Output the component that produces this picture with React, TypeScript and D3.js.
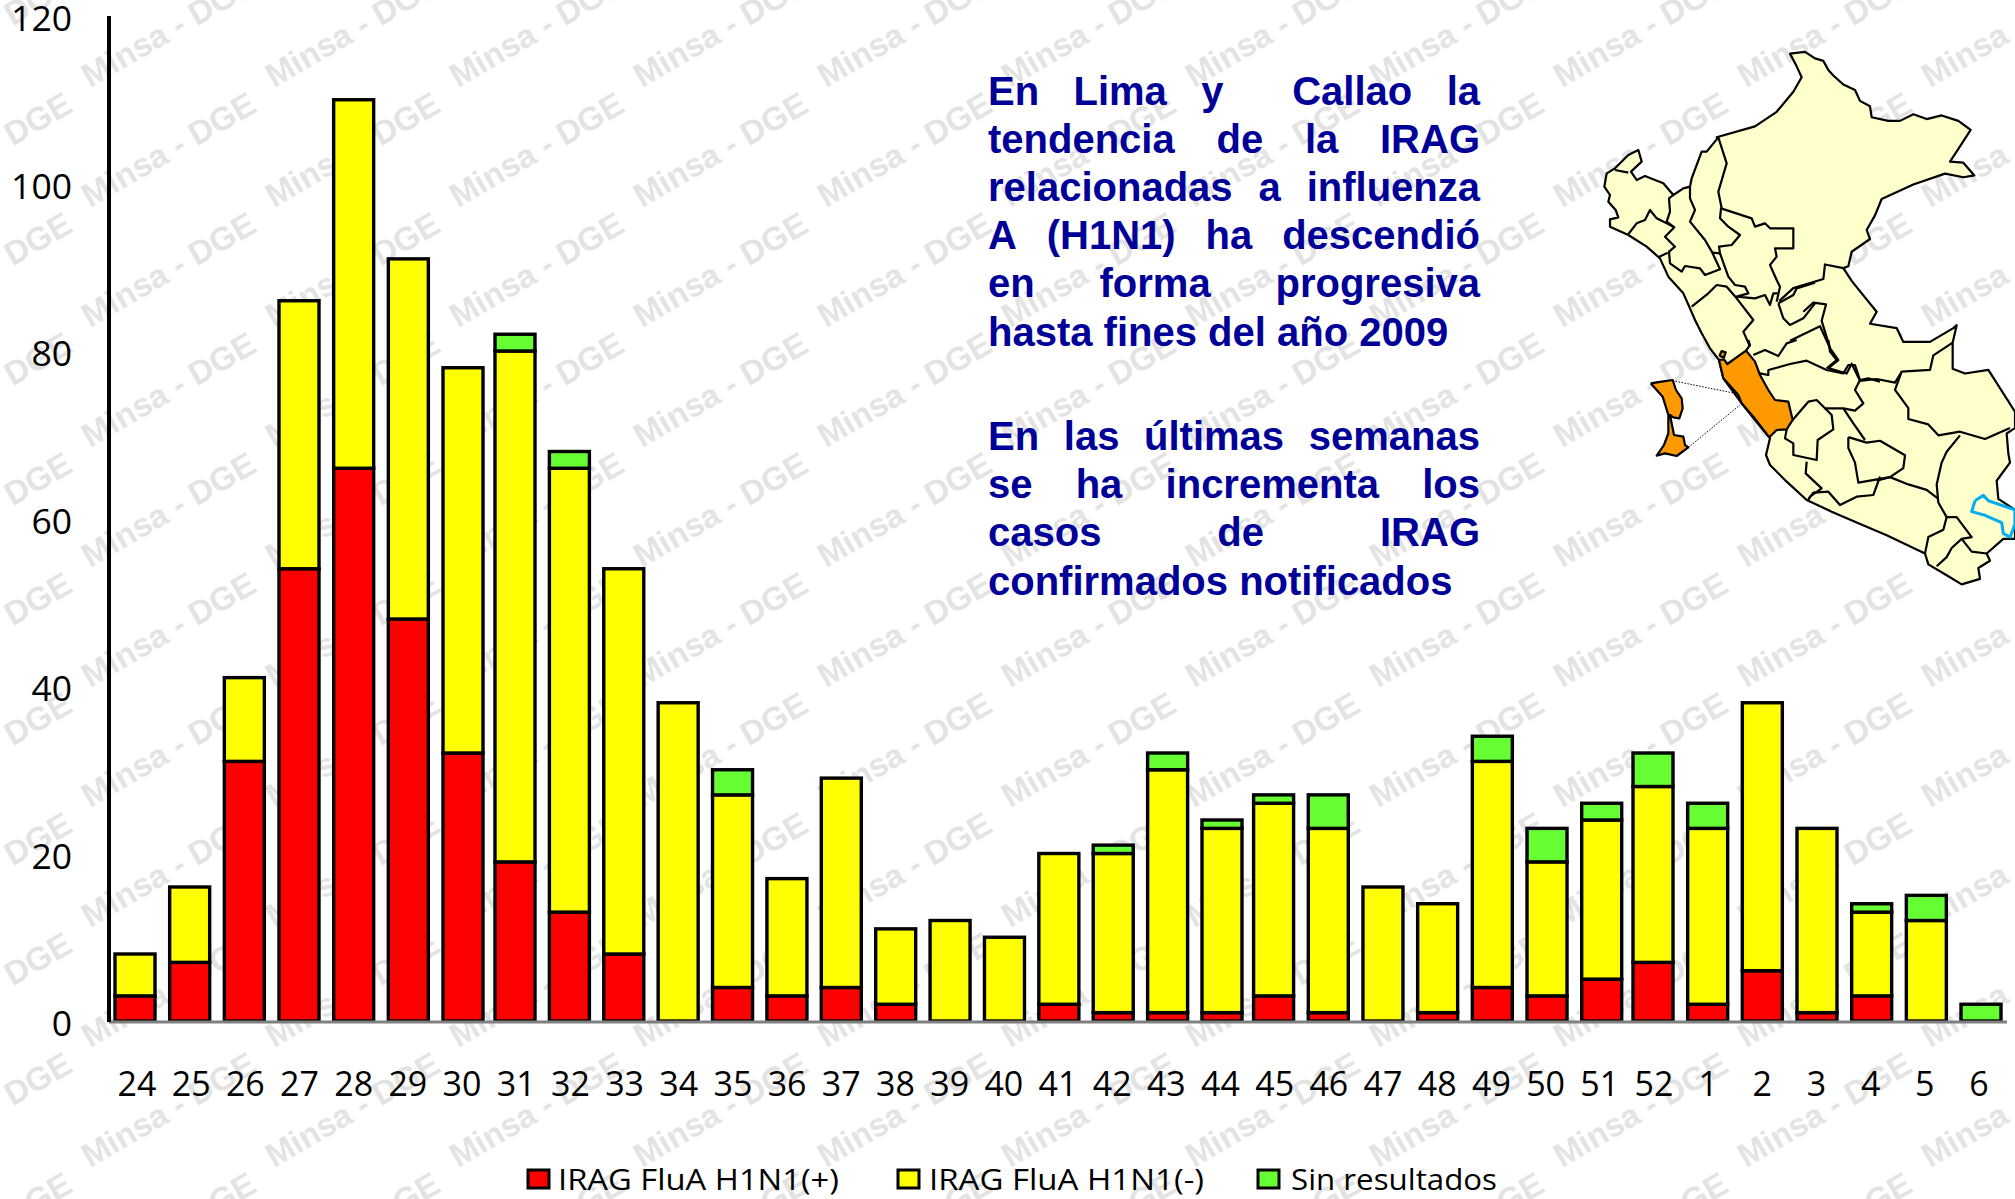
import React from "react";
import * as d3 from "d3";

const weeks = ["24","25","26","27","28","29","30","31","32","33","34","35","36","37","38","39","40","41","42","43","44","45","46","47","48","49","50","51","52","1","2","3","4","5","6"];
const positivos = [3,7,31,54,66,48,32,19,13,8,0,4,3,4,2,0,0,2,1,1,1,3,1,0,1,4,3,5,7,2,6,1,3,0,0];
const negativos = [5,9,10,32,44,43,46,61,53,46,38,23,14,25,9,12,10,18,19,29,22,23,22,16,13,27,16,19,21,21,32,22,10,12,0];
const sinResultados = [0,0,0,0,0,0,0,2,2,0,0,3,0,0,0,0,0,0,1,2,1,1,4,0,0,3,4,2,4,3,0,0,1,3,2];
const yTicks = [0,20,40,60,80,100,120];
const seriesKeys = ["pos","neg","sin"];
const seriesNames = ["IRAG FluA H1N1(+)","IRAG FluA H1N1(-)","Sin resultados"];
const seriesColors = ["#ff0000","#ffff00","#66ff33"];

const parrafoLines = [
  ["En Lima y  Callao la", true],
  ["tendencia de la IRAG", true],
  ["relacionadas a influenza", true],
  ["A (H1N1) ha descendió", true],
  ["en forma progresiva", true],
  ["hasta fines del año 2009", false],
];
const parrafo2Lines = [
  ["En las últimas semanas", true],
  ["se ha incrementa los", true],
  ["casos de IRAG", true],
  ["confirmados notificados", false],
];

type P = [number, number];
// Map traced in three local frames, converted to page pixels below.
const mx = d3.scaleLinear().domain([0,1305]).range([1580,2015]);
const my = d3.scaleLinear().domain([0,1568]).range([30,600]);
const A = (a: P[]): P[] => a.map(p=>[mx(p[0]),my(p[1])] as P);
const B = (a: P[]): P[] => a.map(p=>[1595+p[0]/3,130+p[1]/3] as P);
const C = (a: P[]): P[] => a.map(p=>[1640+p[0]/3,340+p[1]/3] as P);

const outlineEast: P[] = [[410,295],[525,265],[590,225],[640,170],[665,130],[650,100],[630,65],[675,60],[705,78],[730,85],[745,110],[760,125],[790,150],[825,165],[840,195],[870,210],[875,240],[925,250],[960,250],[1000,232],[1040,245],[1085,235],[1135,250],[1172,275],[1140,320],[1110,362],[1150,365],[1183,400],[1150,405],[1095,395],[1000,425],[905,465],[885,510],[860,550],[870,575],[815,610],[805,650],[790,655],[815,690],[850,730],[890,775],[870,808],[950,820],[970,858],[1050,858],[1120,820],[1130,812],[1118,860],[1118,932],[1155,945],[1225,935],[1305,1050],[1305,1095],[1280,1110],[1285,1165],[1290,1190],[1250,1240],[1255,1290],[1305,1320],[1305,1400],[1270,1400],[1220,1440],[1230,1460],[1195,1480],[1200,1510],[1145,1525],[1100,1500],[1045,1470],[1035,1440],[920,1390],[830,1355]];
const outlineSouthCoast: P[] = [[575,515],[500,480],[440,425],[390,375],[378,345],[390,295],[345,240],[305,190],[250,115],[237,60]];
const outlineNorthCoast: P[] = [[345,655],[320,610],[300,570],[285,535],[265,490],[220,440],[195,385],[155,350],[100,315],[45,290],[45,268],[70,262],[62,240],[40,215],[45,195],[28,170],[35,130],[60,115],[100,75],[130,60],[140,95],[108,125],[125,150],[150,138],[180,150],[205,160],[235,195],[265,175],[285,170],[290,145],[320,65],[335,65],[370,22]];
const limaRegion: P[] = [[237,60],[252,58],[262,72],[318,32],[345,65],[360,105],[385,150],[405,180],[445,185],[458,240],[440,268],[410,270],[388,292],[340,230],[305,190],[295,165],[250,115],[237,60]];
const limaIslet: P[] = [[238,48],[245,33],[257,37],[252,52],[238,48]];
const callaoInset: P[] = [[32,130],[65,125],[98,120],[108,150],[125,175],[128,205],[118,235],[100,232],[90,225],[102,285],[130,290],[135,315],[145,322],[110,348],[75,340],[50,347],[72,315],[85,280],[85,225],[68,170],[32,130]];
const apurimacLoop: P[] = [[805,1120],[860,1135],[900,1130],[975,1170],[970,1205],[930,1230],[835,1245],[825,1190],[805,1150],[805,1120]];
const lagoTiticaca: P[] = [[1185,1295],[1210,1280],[1225,1295],[1305,1320],[1305,1360],[1290,1395],[1270,1385],[1265,1355],[1215,1335],[1175,1325],[1185,1295]];
const bordersEast: P[][] = [
  [[598,745],[640,710],[730,685],[735,645],[790,655]],
  [[670,775],[700,750],[738,755],[725,800],[750,875],[775,908],[745,930],[800,945],[815,918],[840,965]],
  [[630,855],[720,815],[750,875]],
  [[890,1240],[930,1230],[985,1250],[1040,1265],[1075,1290]],
  [[1140,1115],[1100,1160],[1085,1190],[1070,1250],[1075,1300],[1100,1340],[1090,1375],[1045,1395],[1035,1440]],
  [[840,965],[890,960],[945,970],[965,940],[1050,935],[1060,895],[1118,860]],
  [[965,940],[945,990],[985,1040],[985,1070],[1045,1085],[1075,1115],[1140,1105],[1215,1125],[1290,1095]],
  [[1100,1340],[1130,1340],[1175,1395],[1145,1400],[1115,1425],[1100,1450],[1070,1475]],
  [[1145,1400],[1175,1435],[1220,1440]],
];
const bordersNorth: P[][] = [
  [[60,120],[100,128]],
  [[98,315],[125,280],[150,270],[165,240],[185,265],[215,280],[238,292]],
  [[235,195],[222,205],[225,245],[215,275],[238,292],[210,320],[240,350],[222,365],[225,400],[260,425],[270,408],[315,415],[330,435],[375,418],[352,368],[330,330],[285,275],[300,240],[285,205],[285,170]],
  [[190,382],[218,368]],
  [[352,368],[375,370],[372,350],[410,345],[435,315],[400,290],[375,265],[378,235],[470,265],[480,290],[510,280],[525,295],[595,295],[595,355],[540,355],[545,380],[525,405],[545,450],[555,470],[545,515]],
  [[370,22],[395,100],[370,185],[380,235]],
  [[375,370],[400,440],[420,465],[450,470],[460,490],[425,500],[480,505],[510,495],[525,525],[535,490],[548,490]],
  [[290,530],[340,490],[365,465],[395,470],[425,505],[475,570],[445,605],[465,650]],
  [[550,520],[595,495],[605,475],[660,458]],
  [[550,520],[565,565],[585,585],[625,565],[660,520]],
];
const bordersSouth: P[][] = [
  [[318,32],[330,15],[325,0]],
  [[340,45],[375,30],[415,48],[440,10],[470,0]],
  [[360,100],[385,105],[385,90],[450,72],[500,62],[560,90],[610,100],[625,75],[645,75],[660,120],[645,150],[670,190],[645,212],[610,205],[555,205],[530,180],[505,185],[458,240]],
  [[565,0],[570,35],[590,60],[560,85]],
  [[660,120],[685,115],[720,125]],
  [[440,268],[435,295],[460,310],[460,345],[530,360],[533,300],[580,268],[575,225],[555,205]],
  [[610,205],[640,250],[675,300]],
  [[500,365],[497,400],[545,445],[510,470],[505,480]],
  [[505,478],[520,458],[565,455],[600,495],[650,470],[700,465],[720,410]],
];
const dottedLeaders: P[][] = [[[98,122],[295,162]],[[145,322],[300,195]]];

const W = 2015, H = 1199;
const BAR_W = 40;
const xCenter = d3.scaleLinear().domain([0,6,7,20,21,27,28,34]).range([135,463,515,1222,1273.6,1601.7,1653,1981]);
const xLabel = d3.scalePoint<string>().domain(weeks).range([137,1979]);
const idx = new Map(weeks.map((w,i)=>[w,i] as [string,number]));
const y = d3.scaleLinear().domain([0,120]).range([1021,16]);
const rows = weeks.map((w,i)=>({week:w,pos:positivos[i],neg:negativos[i],sin:sinResultados[i]}));
const stacked = d3.stack<any>().keys(seriesKeys)(rows);

const mapLine = d3.line<P>().x(p=>p[0]).y(p=>p[1]);
const peruOutline: P[] = [...A(outlineEast), ...C(outlineSouthCoast), ...B(outlineNorthCoast)];

const FS = 40;
const textFont = `bold ${FS}px 'Liberation Sans'`;
const TX0 = 988, TX1 = 1480;
function measure(s: string){
  const c = document.createElement("canvas").getContext("2d")!;
  c.font = textFont;
  return c.measureText(s).width;
}
function JustLine({text, just, yy}:{text:string,just:boolean,yy:number}){
  const words = text.split(" ");
  const ws = words.map(measure);
  const sp = measure(" ");
  const gap = just && words.length>1 ? (TX1-TX0-d3.sum(ws))/(words.length-1) : sp;
  let cx = TX0;
  return <text y={yy} fontFamily="'Liberation Sans'" fontWeight="bold" fontSize={FS} fill="#000099">
    {words.map((w,i)=>{const xx=cx; cx+=ws[i]+gap; return w ? <tspan key={i} x={xx}>{w}</tspan> : null;})}
  </text>;
}

const legendX = [{sq:528,tx:558,tw:281},{sq:898,tx:929,tw:275},{sq:1258,tx:1291,tw:206}];
const MAP_STROKE = {fill:"none", stroke:"#000", strokeWidth:2.2};

export default function App(){
  return <svg width={W} height={H} style={{position:"absolute",left:0,top:0,background:"#fff"}}>
    <defs>
      <pattern id="wm" patternUnits="userSpaceOnUse" x={78} y={-30} width={184} height={120}>
        <text transform="translate(12,118) rotate(-30)" fontFamily="'Liberation Sans'" fontWeight="bold" fontSize={33} fill="#e3e3e3">Minsa - DGE</text>
      </pattern>
    </defs>
    <rect width={W} height={H} fill="url(#wm)"/>

    {stacked.map((s,si)=><g key={s.key} fill={seriesColors[si]} stroke="#000" strokeWidth={3.4}>
      {s.map((d:any)=> d[1]>d[0] ? <rect key={d.data.week} x={xCenter(idx.get(d.data.week)!)-BAR_W/2} width={BAR_W} y={y(d[1])} height={y(d[0])-y(d[1])}/> : null)}
    </g>)}
    <line x1={109} x2={2007} y1={y(0)+1} y2={y(0)+1} stroke="#808080" strokeWidth={3}/>
    <line x1={109} x2={109} y1={y(120)} y2={y(0)+1} stroke="#000" strokeWidth={4}/>

    {yTicks.map(t=><text key={t} x={72} y={y(t)+15} textAnchor="end" fontFamily="'Open Sans'" fontSize={35.5} fill="#000">{t}</text>)}
    {weeks.map(w=><text key={w} x={xLabel(w)} y={1096} textAnchor="middle" fontFamily="'Open Sans'" fontSize={34} fill="#000">{w}</text>)}

    {seriesNames.map((n,i)=><g key={n}>
      <rect x={legendX[i].sq} y={1170} width={21} height={18} fill={seriesColors[i]} stroke="#000" strokeWidth={3}/>
      <text x={legendX[i].tx} y={1190} fontFamily="'Open Sans'" fontSize={30} fill="#000" textLength={legendX[i].tw} lengthAdjust="spacingAndGlyphs">{n}</text>
    </g>)}

    {parrafoLines.map(([t,j],i)=><JustLine key={i} text={t as string} just={j as boolean} yy={104.5+i*48.2}/>)}
    {parrafo2Lines.map(([t,j],i)=><JustLine key={i} text={t as string} just={j as boolean} yy={450+i*48.2}/>)}

    <g strokeLinejoin="round">
      <path d={mapLine(peruOutline)+"Z"} fill="#ffffcc" stroke="#000" strokeWidth={2.2}/>
      <path d={mapLine(A(apurimacLoop))!} {...MAP_STROKE}/>
      {bordersEast.map((b,i)=><path key={i} d={mapLine(A(b))!} {...MAP_STROKE}/>)}
      {bordersNorth.map((b,i)=><path key={i} d={mapLine(B(b))!} {...MAP_STROKE}/>)}
      {bordersSouth.map((b,i)=><path key={i} d={mapLine(C(b))!} {...MAP_STROKE}/>)}
      <path d={mapLine(C(limaRegion))!} fill="#ff9900" stroke="#000" strokeWidth={2.2}/>
      <path d={mapLine(C(limaIslet))!} fill="#ff9900" stroke="#000" strokeWidth={2.2}/>
      <path d={mapLine(C(callaoInset))!} fill="#ff9900" stroke="#000" strokeWidth={2.2}/>
      <path d={mapLine(A(lagoTiticaca))!} fill="none" stroke="#00aeef" strokeWidth={3}/>
      {dottedLeaders.map((b,i)=><path key={i} d={mapLine(C(b))!} fill="none" stroke="#000" strokeWidth={1} strokeDasharray="1.5 1.5"/>)}
    </g>
  </svg>;
}
